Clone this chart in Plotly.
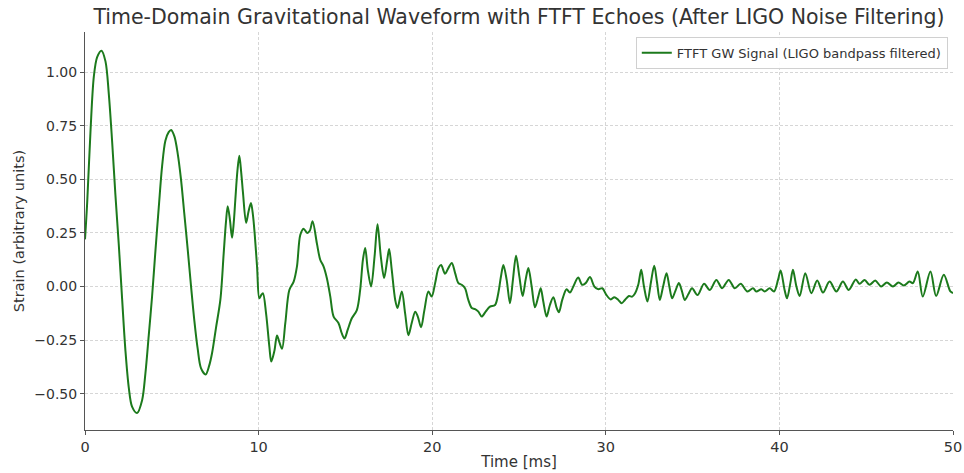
import plotly.graph_objects as go

# Time [ms] and strain values
time_ms = [
    0.00, 0.125, 0.32, 0.51, 0.70, 0.95, 1.18, 1.37, 1.56, 1.75, 1.95, 2.14, 2.33, 2.52, 2.71,
    3.00, 3.29, 3.48, 3.67, 3.86, 4.06, 4.25, 4.44, 4.63, 4.82, 4.96, 5.15, 5.34, 5.53, 5.72,
    5.92, 6.11, 6.30, 6.49, 6.68, 6.95, 7.15, 7.32, 7.55, 7.80, 7.99, 8.12, 8.22, 8.35, 8.47,
    8.57, 8.66, 8.78, 8.89, 9.00, 9.10, 9.28, 9.42, 9.56, 9.68, 9.77, 9.91, 10.04, 10.15, 10.25,
    10.43, 10.62, 10.73, 10.91, 11.06, 11.19, 11.35, 11.54, 11.77, 12.02, 12.21, 12.40, 12.59,
    12.80, 12.95, 13.11, 13.36, 13.55, 13.74, 13.93, 14.13, 14.32, 14.60, 14.80, 14.95, 15.14,
    15.37, 15.66, 15.85, 16.01, 16.14, 16.29, 16.48, 16.68, 16.85, 17.04, 17.23, 17.41, 17.52,
    17.67, 17.87, 18.00, 18.25, 18.44, 18.63, 18.82, 19.02, 19.17, 19.36, 19.55, 19.78, 19.97,
    20.17, 20.36, 20.51, 20.74, 20.93, 21.13, 21.32, 21.51, 21.70, 21.89, 22.08, 22.28, 22.47,
    22.66, 22.85, 23.08, 23.33, 23.62, 23.81, 23.96, 24.10, 24.29, 24.48, 24.65, 24.83, 25.02,
    25.21, 25.38, 25.54, 25.73, 25.92, 26.11, 26.25, 26.40, 26.59, 26.78, 26.98, 27.17, 27.30,
    27.49, 27.74, 27.93, 28.13, 28.41, 28.64, 28.84, 29.09, 29.34, 29.57, 29.80, 30.04, 30.29,
    30.49, 30.72, 30.91, 31.10, 31.33, 31.52, 31.67, 31.87, 32.04, 32.20, 32.40, 32.60, 32.79,
    32.95, 33.11, 33.30, 33.50, 33.66, 33.82, 34.01, 34.21, 34.38, 34.55, 34.76, 34.97, 35.28,
    35.66, 35.99, 36.37, 36.70, 37.08, 37.43, 37.77, 38.16, 38.48, 38.67, 38.96, 39.15, 39.44,
    39.69, 39.92, 40.07, 40.30, 40.44, 40.63, 40.78, 40.98, 41.17, 41.49, 41.84, 42.18, 42.51,
    42.89, 43.28, 43.66, 43.99, 44.40, 44.62, 44.91, 45.19, 45.52, 45.86, 46.19, 46.54, 46.86,
    47.17, 47.49, 47.69, 47.97, 48.26, 48.70, 49.03, 49.47, 49.85, 50.00,
]
strain = [
    0.22, 0.39, 0.73, 0.98, 1.07, 1.10, 1.05, 0.90, 0.68, 0.43, 0.19, -0.06, -0.30, -0.47, -0.56,
    -0.59, -0.53, -0.405, -0.23, -0.05, 0.17, 0.37, 0.56, 0.68, 0.72, 0.73, 0.70, 0.62, 0.50, 0.34,
    0.17, 0.00, -0.16, -0.29, -0.38, -0.41, -0.37, -0.31, -0.19, -0.06, 0.156, 0.30, 0.375, 0.31, 0.227,
    0.30, 0.406, 0.54, 0.61, 0.53, 0.4375, 0.297, 0.35, 0.39, 0.33, 0.25, 0.094, -0.055, -0.04, -0.031,
    -0.125, -0.28, -0.35, -0.30, -0.228, -0.258, -0.29, -0.17, -0.016, 0.023, 0.094, 0.24, 0.27,
    0.25, 0.26, 0.305, 0.20, 0.125, 0.094, 0.04, -0.047, -0.14, -0.17, -0.22, -0.242, -0.20,
    -0.148, -0.11, -0.016, 0.125, 0.18, 0.078, 0.0, 0.14, 0.29, 0.14, 0.04, 0.125, 0.175,
    0.078, -0.0625, -0.10, -0.023, -0.125, -0.227, -0.17, -0.117, -0.14, -0.19, -0.11, -0.023, -0.047,
    0.016, 0.086, 0.10, 0.06, 0.086, 0.11, 0.0625, 0.016, 0.008, -0.008, -0.0625, -0.10, -0.105,
    -0.117, -0.14, -0.117, -0.094, -0.086, -0.03, 0.047, 0.10, 0.031, -0.078, 0.031, 0.144, 0.047,
    -0.044, 0.031, 0.086, 0.0, -0.097, -0.047, -0.008, -0.07, -0.14, -0.086, -0.05, -0.10, -0.12,
    -0.0625, -0.0125, -0.028, 0.0, 0.042, 0.008, 0.016, 0.044, 0.0, -0.0125, -0.008, -0.04, -0.06,
    -0.05, -0.0625, -0.078, -0.0625, -0.044, -0.047, -0.034, 0.008, 0.078, 0.0, -0.07, 0.02, 0.097,
    0.02, -0.0625, 0.0, 0.0625, 0.0, -0.055, -0.02, 0.016, -0.02, -0.0625, -0.035, -0.008, -0.04,
    0.0125, -0.016, 0.031, -0.008, 0.031, -0.008, 0.0125, -0.023, -0.008, -0.023, -0.0125, -0.023, -0.008,
    -0.023, 0.031, 0.075, -0.016, -0.055, 0.016, 0.078, 0.0, -0.044, 0.0625, -0.031, 0.028, -0.028,
    0.023, -0.023, 0.023, -0.016, 0.033, 0.0125, 0.031, 0.008, 0.028, 0.0, 0.019, 0.0, 0.019,
    0.005, 0.023, 0.016, 0.07, -0.047, 0.07, -0.044, 0.055, -0.023, -0.03,
]

x_ticks = [0, 10, 20, 30, 40, 50]
y_ticks = [-0.50, -0.25, 0.00, 0.25, 0.50, 0.75, 1.00]
y_tick_text = [f"{v:.2f}".replace("-", "\u2212") for v in y_ticks]

font_family = "DejaVu Sans, sans-serif"
text_color = "#333333"

fig = go.Figure()
fig.add_trace(go.Scatter(
    x=time_ms, y=strain, mode="lines",
    line=dict(color="#1c7a1c", width=2, shape="spline", smoothing=0.9),
    name="FTFT GW Signal (LIGO bandpass filtered)",
))

fig.update_layout(
    width=964, height=473,
    margin=dict(l=84.5, r=10.5, t=32, b=43, autoexpand=False),
    paper_bgcolor="white", plot_bgcolor="white",
    font=dict(family=font_family, color=text_color),
    title=dict(
        text="Time-Domain Gravitational Waveform with FTFT Echoes (After LIGO Noise Filtering)",
        x=(84.5 + 953.5) / 2 / 964, xanchor="center", y=1 - 17 / 473, yanchor="middle",
        font=dict(size=20.5, color=text_color, family=font_family),
    ),
    showlegend=True,
    legend=dict(
        x=0.994, y=0.988, xanchor="right", yanchor="top",
        bgcolor="rgba(255,255,255,0.9)", bordercolor="#d0d0d0", borderwidth=1,
        font=dict(size=13, color=text_color, family=font_family),
        tracegroupgap=0, itemwidth=30,
    ),
)
fig.update_xaxes(
    range=[0, 50], tickvals=x_ticks, ticktext=[str(v) for v in x_ticks],
    automargin=False,
    showline=True, linecolor="#555555", linewidth=1, mirror=False,
    ticks="outside", ticklen=4, tickcolor="#555555",
    showgrid=True, gridcolor="#d6d6d6", griddash="3px,2px", gridwidth=0.8,
    zeroline=False,
    tickfont=dict(size=14.5, color=text_color),
    title=dict(text="Time [ms]", font=dict(size=15, color=text_color), standoff=2),
)
fig.update_yaxes(
    range=[-0.669, 1.187], tickvals=y_ticks, ticktext=y_tick_text,
    automargin=False,
    showline=True, linecolor="#555555", linewidth=1, mirror=False,
    ticks="outside", ticklen=4, tickcolor="#555555",
    showgrid=True, gridcolor="#d6d6d6", griddash="3px,2px", gridwidth=0.8,
    zeroline=False,
    tickfont=dict(size=14, color=text_color),
    title=dict(text="Strain (arbitrary units)", font=dict(size=14.5, color=text_color), standoff=6),
)

fig.write_html("out.html")
